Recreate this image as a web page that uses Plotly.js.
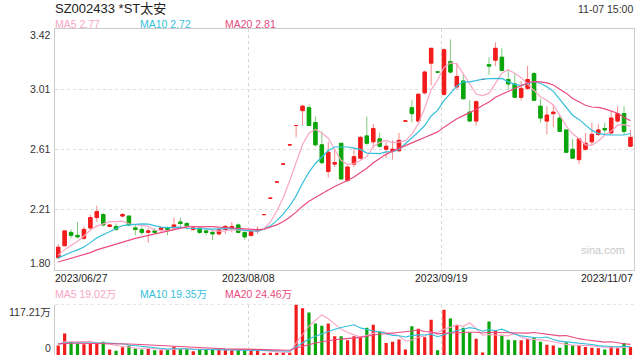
<!DOCTYPE html>
<html><head><meta charset="utf-8">
<script src="https://cdn.plot.ly/plotly-3.0.1.min.js"></script>
<style>html,body{margin:0;padding:0;background:#fff;}#chart{width:640px;height:360px;}</style>
</head><body><div id="chart"></div>
<script>
// Trading days shown (2023/06/27 .. 2023/11/07)
const dates = [
'2023/06/27','2023/06/28','2023/06/29','2023/06/30',
'2023/07/03','2023/07/04','2023/07/05','2023/07/06','2023/07/07',
'2023/07/10','2023/07/11','2023/07/12','2023/07/13','2023/07/14',
'2023/07/17','2023/07/18','2023/07/19','2023/07/20','2023/07/21',
'2023/07/24','2023/07/25','2023/07/26','2023/07/27','2023/07/28','2023/07/31',
'2023/08/01','2023/08/02','2023/08/03','2023/08/04',
'2023/08/07','2023/08/08','2023/08/09','2023/08/10','2023/08/11',
'2023/08/14','2023/08/15','2023/08/16','2023/08/17','2023/08/18',
'2023/08/21','2023/08/22','2023/08/23','2023/08/24','2023/08/25',
'2023/08/28','2023/08/29','2023/08/30','2023/08/31',
'2023/09/01','2023/09/04','2023/09/05','2023/09/06','2023/09/07','2023/09/08',
'2023/09/11','2023/09/12','2023/09/13','2023/09/14','2023/09/15',
'2023/09/18','2023/09/19','2023/09/20','2023/09/21','2023/09/22',
'2023/09/25','2023/09/26','2023/09/27','2023/09/28',
'2023/10/09','2023/10/10','2023/10/11','2023/10/12','2023/10/13',
'2023/10/16','2023/10/17','2023/10/18','2023/10/19','2023/10/20',
'2023/10/23','2023/10/24','2023/10/25','2023/10/26','2023/10/27',
'2023/10/30','2023/10/31',
'2023/11/01','2023/11/02','2023/11/03','2023/11/06','2023/11/07'];

const openP = [1.88,1.96,2.05,2.03,2.01,2.08,2.15,2.17,2.09,2.09,
2.16,2.16,2.08,2.07,2.05,2.06,2.07,2.08,2.08,2.12,
2.11,2.07,2.08,2.06,2.05,2.04,2.07,2.08,2.10,2.05,
2.03,2.06,2.17,2.28,2.39,2.51,2.64,2.77,2.87,2.89,
2.79,2.64,2.46,2.51,2.65,2.40,2.51,2.55,2.70,2.66,
2.68,2.61,2.60,2.60,2.80,2.89,2.80,2.99,3.19,3.13,
2.98,3.20,3.03,3.07,2.86,2.80,3.08,3.18,3.21,3.23,
3.08,3.05,2.96,3.02,3.12,2.90,2.80,2.85,2.82,2.74,
2.61,2.54,2.61,2.66,2.71,2.75,2.72,2.80,2.85,2.63];
const highP = [1.97,2.06,2.07,2.12,2.09,2.17,2.23,2.18,2.10,2.11,
2.18,2.16,2.10,2.09,2.08,2.08,2.09,2.09,2.15,2.15,
2.12,2.09,2.09,2.07,2.07,2.07,2.10,2.12,2.11,2.05,
2.07,2.09,2.17,2.28,2.39,2.51,2.64,2.77,2.91,2.91,
2.83,2.73,2.66,2.61,2.65,2.50,2.62,2.70,2.83,2.78,
2.72,2.66,2.67,2.72,2.80,2.94,2.99,3.14,3.29,3.13,
3.29,3.35,3.19,3.12,2.94,2.94,3.08,3.23,3.33,3.29,
3.15,3.12,3.07,3.17,3.13,2.95,2.90,2.91,2.84,2.74,
2.68,2.68,2.72,2.79,2.78,2.79,2.87,2.90,2.90,2.74];
const lowP = [1.87,1.96,2.01,2.01,2.00,2.07,2.12,2.09,2.09,2.06,
2.15,2.09,2.03,2.03,1.98,2.04,2.05,2.03,2.08,2.09,
2.07,2.06,2.04,2.03,2.00,2.03,2.04,2.05,2.05,2.00,
2.02,2.04,2.17,2.28,2.39,2.51,2.64,2.69,2.77,2.77,
2.63,2.51,2.42,2.49,2.41,2.39,2.49,2.54,2.64,2.62,
2.62,2.55,2.54,2.59,2.80,2.79,2.78,2.98,3.04,3.13,
2.97,3.12,3.01,2.95,2.80,2.77,3.08,3.11,3.17,3.14,
3.01,2.96,2.94,3.01,2.94,2.79,2.71,2.76,2.73,2.59,
2.55,2.51,2.60,2.64,2.70,2.71,2.71,2.79,2.71,2.63];
const closeP = [1.95,2.06,2.03,2.02,2.07,2.15,2.19,2.10,2.10,2.07,
2.17,2.10,2.07,2.05,2.06,2.05,2.08,2.07,2.10,2.11,
2.09,2.08,2.05,2.05,2.04,2.07,2.09,2.09,2.05,2.02,
2.06,2.07,2.17,2.28,2.39,2.51,2.64,2.77,2.90,2.77,
2.64,2.52,2.59,2.52,2.41,2.49,2.56,2.69,2.65,2.75,
2.63,2.63,2.61,2.67,2.80,2.85,2.98,3.13,3.29,3.13,
3.28,3.13,3.10,2.95,2.80,2.93,3.08,3.17,3.29,3.14,
3.05,2.96,3.02,3.08,2.94,2.82,2.84,2.86,2.73,2.59,
2.55,2.68,2.65,2.71,2.74,2.74,2.82,2.85,2.73,2.69];
// volume, 万股
const volume = [22,50,31,26,25,28,28,31,12.5,10,
18,22,15,12.5,14,11,11,14,19,14,
14,8.5,12.5,12.5,12.5,12.5,12.5,14,12.5,12.5,
11,11,4,5,5,6,6,117.21,108.4,98.5,
73,68,73,43.5,43.5,34,43.5,43.5,63.5,70.5,
55,28,31,36,12.5,66.5,61,41,82,11,
105,84.5,69,63.5,52.5,38,6,77.5,56.5,47,
35.5,34,34,37,40.5,31,24,22,17,29.5,
22,22,18.5,17,15.5,12.5,20,17,28,18.5];
// closes / volumes of the sessions before the window (estimated from the MA lines' start)
const priorClose = [1.80,1.81,1.82,1.81,1.83,1.82,1.83,1.84,1.83,1.84,1.85,1.86,1.86,1.87,1.86,1.87,1.89,1.88,1.89];
const priorVolume = [22,30,25,28,24,26,31,23,27,25,24,29,26,22,27,25,30,24,26];

const yTickVals = [1.80,2.205,2.61,3.015,3.42];
const yTickText = ['1.80','2.21','2.61','3.01','3.42'];
const volMax = 117.21;
const volTickText = ['117.21万','0'];
const dateTickIdx = [0,30,60,89];
const maNames = ['MA5','MA10','MA20'];
const maPeriods = [5,10,20];
const maLabelVals = ['2.77','2.72','2.81'];
const volMaLabelVals = ['19.02','19.35','24.46'];

const RED='#f31c1c', GREEN='#0aa50a', RED_W='#f58a8a', GREEN_W='#80ca80';
const maColors = ['#f9a6c6','#35bfdc','#ea4b80'];

const xs = dates.map((d,i)=>i);
function ma(series, prior, n){
  const all = prior.concat(series);
  return series.map((_,i)=>{const j=prior.length+i; let s=0; for(let k=j-n+1;k<=j;k++) s+=all[k]; return s/n;});
}
// direction like the candlestick logic
const up=[]; let prevC=null, st=true;
for(let i=0;i<xs.length;i++){
  if(closeP[i]===openP[i]){ if(prevC!==null && closeP[i]!==prevC) st = closeP[i]>prevC; }
  else st = closeP[i]>openP[i];
  up.push(st); prevC=closeP[i];
}
const bodyHi = openP.map((o,i)=>Math.max(o,closeP[i]));
const bodyLo = openP.map((o,i)=>Math.min(o,closeP[i]));

const traces = [
 {type:'candlestick', x:xs, open:openP, high:highP, low:lowP, close:closeP, xaxis:'x', yaxis:'y',
  increasing:{line:{color:RED_W,width:1},fillcolor:RED_W}, decreasing:{line:{color:GREEN_W,width:1},fillcolor:GREEN_W}, hoverinfo:'skip'},
 {type:'candlestick', x:xs, open:openP, high:bodyHi, low:bodyLo, close:closeP, xaxis:'x', yaxis:'y',
  increasing:{line:{color:RED,width:1},fillcolor:RED}, decreasing:{line:{color:GREEN,width:1},fillcolor:GREEN}, hoverinfo:'skip'}
];
maPeriods.forEach((n,k)=>traces.push({type:'scatter',mode:'lines',x:xs,y:ma(closeP,priorClose,n),xaxis:'x',yaxis:'y',line:{color:maColors[k],width:1.2},hoverinfo:'skip'}));
traces.push({type:'bar', x:xs, y:volume, xaxis:'x2', yaxis:'y2', width:0.5, marker:{color:up.map(u=>u?RED:GREEN), line:{width:0}}, hoverinfo:'skip'});
maPeriods.forEach((n,k)=>traces.push({type:'scatter',mode:'lines',x:xs,y:ma(volume,priorVolume,n),xaxis:'x2',yaxis:'y2',line:{color:maColors[k],width:1.1},hoverinfo:'skip'}));

const H=360, T=29, B=5, PH=H-T-B;
const py = px => (H-B-px)/PH;        // pixel row -> paper y
const W=640, L=55, R=6, PW=W-L-R;
const pxx = px => (px-L)/PW;
const gridX = [dateTickIdx[1]-0.35, dateTickIdx[2]-0.35];
const FONT='"Liberation Sans", Arial, "Noto Sans CJK SC", sans-serif';

const ann = [];
ann.push({text:'SZ002433 *ST太安', xref:'paper', yref:'paper', x:0, y:py(9), xanchor:'left', yanchor:'middle', xshift:-2, showarrow:false, font:{size:13,color:'#222'}});
ann.push({text:'11-07 15:00', xref:'paper', yref:'paper', x:1, y:py(9), xanchor:'right', yanchor:'middle', xshift:1, showarrow:false, font:{size:10.5,color:'#333'}});
const maX=[55,140,225];
maNames.forEach((nm,k)=>{
  ann.push({text:nm+' '+maLabelVals[k], xref:'paper', yref:'paper', x:pxx(maX[k]), y:py(24), xanchor:'left', yanchor:'middle', xshift:-2, showarrow:false, font:{size:10.5,color:maColors[k]}});
  ann.push({text:nm+' '+volMaLabelVals[k]+'万', xref:'paper', yref:'paper', x:pxx(maX[k]), y:py(294), xanchor:'left', yanchor:'middle', xshift:-2, showarrow:false, font:{size:10.5,color:maColors[k]}});
});
yTickVals.forEach((v,k)=>{
  const sh = k===0 ? 6.5 : (k===yTickVals.length-1 ? -6 : 0);
  ann.push({text:yTickText[k], xref:'paper', yref:'y', x:0, y:v, xanchor:'right', yanchor:'middle', xshift:-2, yshift:sh, showarrow:false, font:{size:10.5,color:'#333'}});
});
ann.push({text:volTickText[0], xref:'paper', yref:'y2', x:0, y:volMax, xanchor:'right', yanchor:'middle', xshift:-2, yshift:-7, showarrow:false, font:{size:10.5,color:'#333'}});
ann.push({text:volTickText[1], xref:'paper', yref:'y2', x:0, y:0, xanchor:'right', yanchor:'middle', xshift:-2, yshift:7, showarrow:false, font:{size:10.5,color:'#333'}});
dateTickIdx.forEach((idx,k)=>{
  const a = {text:dates[idx], yref:'paper', y:py(278), yanchor:'middle', showarrow:false, font:{size:10.5,color:'#222'}};
  if(k===0){a.xref='paper';a.x=0;a.xanchor='left';a.xshift=-2;}
  else if(k===dateTickIdx.length-1){a.xref='paper';a.x=1;a.xanchor='right';a.xshift=1;}
  else {a.xref='x';a.x=idx-0.35;a.xanchor='center';}
  ann.push(a);
});
ann.push({text:'sina.com', xref:'paper', yref:'paper', x:pxx(603), y:py(249.5), xanchor:'center', yanchor:'middle', showarrow:false, font:{size:11,color:'#c8c8c8'}});

const layout = {
  width:W, height:H, margin:{l:L,r:R,t:T,b:B}, paper_bgcolor:'#fff', plot_bgcolor:'#fff',
  font:{family:FONT,size:11,color:'#333'}, showlegend:false, boxgap:0.24, bargap:0.5,
  xaxis:{domain:[0,1], anchor:'y', range:[-0.5,89.55], tickvals:gridX, showticklabels:false, ticks:'',
    showgrid:true, gridcolor:'#d6d6d6', griddash:'3px,3px', gridwidth:1, showline:true, linecolor:'#cccccc', mirror:true,
    zeroline:false, rangeslider:{visible:false}, fixedrange:true},
  yaxis:{domain:[py(269.5),1], anchor:'x', range:[1.80,3.42], tickvals:yTickVals.slice(1,4), showticklabels:false, ticks:'',
    showgrid:true, gridcolor:'#dddddd', griddash:'dot', gridwidth:1.2, showline:true, linecolor:'#cccccc', mirror:true, zeroline:false, fixedrange:true},
  xaxis2:{domain:[0,1], anchor:'y2', range:[-0.5,89.55], tickvals:gridX, showticklabels:false, ticks:'',
    showgrid:true, gridcolor:'#d6d6d6', griddash:'3px,3px', gridwidth:1, showline:false, zeroline:false, fixedrange:true},
  yaxis2:{domain:[0,py(304.5)], anchor:'x2', range:[0,volMax], showticklabels:false, ticks:'', showgrid:false,
    showline:true, linecolor:'#cccccc', zeroline:false, fixedrange:true},
  shapes:[{type:'line', xref:'paper', yref:'y2', x0:0, x1:1, y0:volMax, y1:volMax, line:{color:'#cccccc', width:1.2, dash:'dot'}}],
  annotations:ann
};
Plotly.newPlot('chart', traces, layout, {displayModeBar:false, staticPlot:true});
</script></body></html>
